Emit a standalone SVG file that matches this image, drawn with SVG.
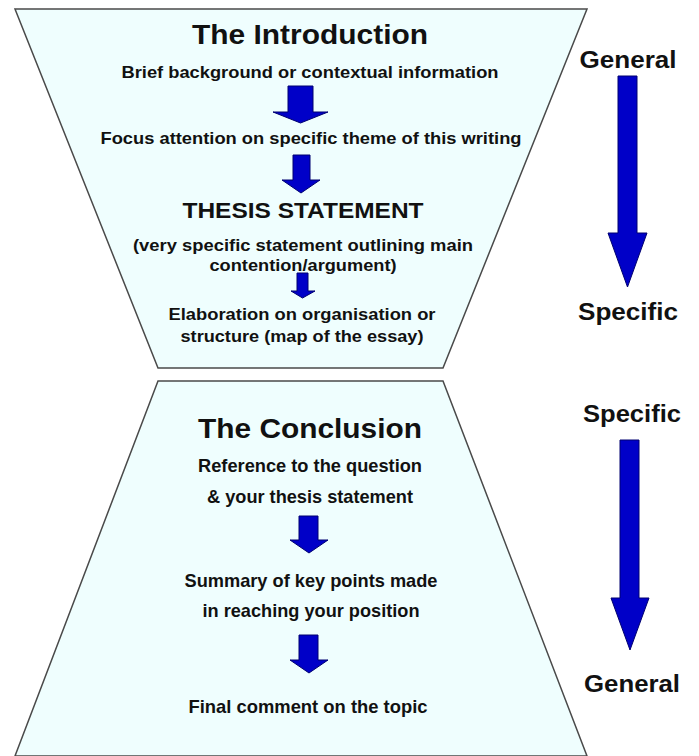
<svg xmlns="http://www.w3.org/2000/svg" width="699" height="756" viewBox="0 0 699 756">
<style>
.shape{fill:#effefe;stroke:#4a4a4a;stroke-width:1.5;stroke-linejoin:miter}
.arr{fill:#0000c8;stroke:#000070;stroke-width:1}
text{font-family:"Liberation Sans",Arial,sans-serif;font-weight:bold;fill:#111;text-anchor:middle}
.h1{font-size:28px}
.h2{font-size:22px}
.b{font-size:16.5px}
.c{font-size:18.5px}
.side{font-size:23px}
</style>
<rect width="699" height="756" fill="#ffffff"/>
<g id="introduction">
<polygon class="shape" points="15,9 587,9 443,368 158,368"/>
<text class="h1" x="310" y="44" textLength="236" lengthAdjust="spacingAndGlyphs">The Introduction</text>
<text class="b" x="310" y="78" textLength="377" lengthAdjust="spacingAndGlyphs">Brief background or contextual information</text>
<text class="b" x="311" y="144" textLength="421" lengthAdjust="spacingAndGlyphs">Focus attention on specific theme of this writing</text>
<text class="h2" x="303" y="218" textLength="241" lengthAdjust="spacingAndGlyphs">THESIS STATEMENT</text>
<text class="b" x="303" y="251" textLength="340" lengthAdjust="spacingAndGlyphs">(very specific statement outlining main</text>
<text class="b" x="303" y="271" textLength="187" lengthAdjust="spacingAndGlyphs">contention/argument)</text>
<text class="b" x="302" y="320" textLength="267" lengthAdjust="spacingAndGlyphs">Elaboration on organisation or</text>
<text class="b" x="302" y="342" textLength="243" lengthAdjust="spacingAndGlyphs">structure (map of the essay)</text>
</g>
<g id="conclusion">
<polygon class="shape" points="158,381 443,381 587,756 15,756"/>
<text class="h1" x="310" y="438" textLength="224" lengthAdjust="spacingAndGlyphs">The Conclusion</text>
<text class="c" x="310" y="472" textLength="224" lengthAdjust="spacingAndGlyphs">Reference to the question</text>
<text class="c" x="310" y="503" textLength="206" lengthAdjust="spacingAndGlyphs">&amp; your thesis statement</text>
<text class="c" x="311" y="587" textLength="253" lengthAdjust="spacingAndGlyphs">Summary of key points made</text>
<text class="c" x="311" y="617" textLength="217" lengthAdjust="spacingAndGlyphs">in reaching your position</text>
<text class="c" x="308" y="713" textLength="239" lengthAdjust="spacingAndGlyphs">Final comment on the topic</text>
</g>
<g id="labels">
<text class="side" x="628" y="68" textLength="97" lengthAdjust="spacingAndGlyphs">General</text>
<text class="side" x="628" y="320" textLength="100" lengthAdjust="spacingAndGlyphs">Specific</text>
<text class="side" x="632" y="422" textLength="98" lengthAdjust="spacingAndGlyphs">Specific</text>
<text class="side" x="632" y="692" textLength="96" lengthAdjust="spacingAndGlyphs">General</text>
</g>
<g id="connectors">
<polygon class="arr" points="288,86 313,86 313,112 328,112 300.5,123 273,112 288,112"/>
<polygon class="arr" points="293,155 310,155 310,180 320,180 301,193 282,180 293,180"/>
<polygon class="arr" points="297,273 308,273 308,291 315,291 302.5,298 291,291 297,291"/>
<polygon class="arr" points="299,516 318,516 318,540 328,540 309,553 290,540 299,540"/>
<polygon class="arr" points="299,635 318,635 318,660 328,660 309,673 290,660 299,660"/>
<polygon class="arr" points="618,76 637,76 637,233 647,233 627.5,287 608,233 618,233"/>
<polygon class="arr" points="620,440 639,440 639,598 649,598 630,650 611,598 620,598"/>
</g>
</svg>
